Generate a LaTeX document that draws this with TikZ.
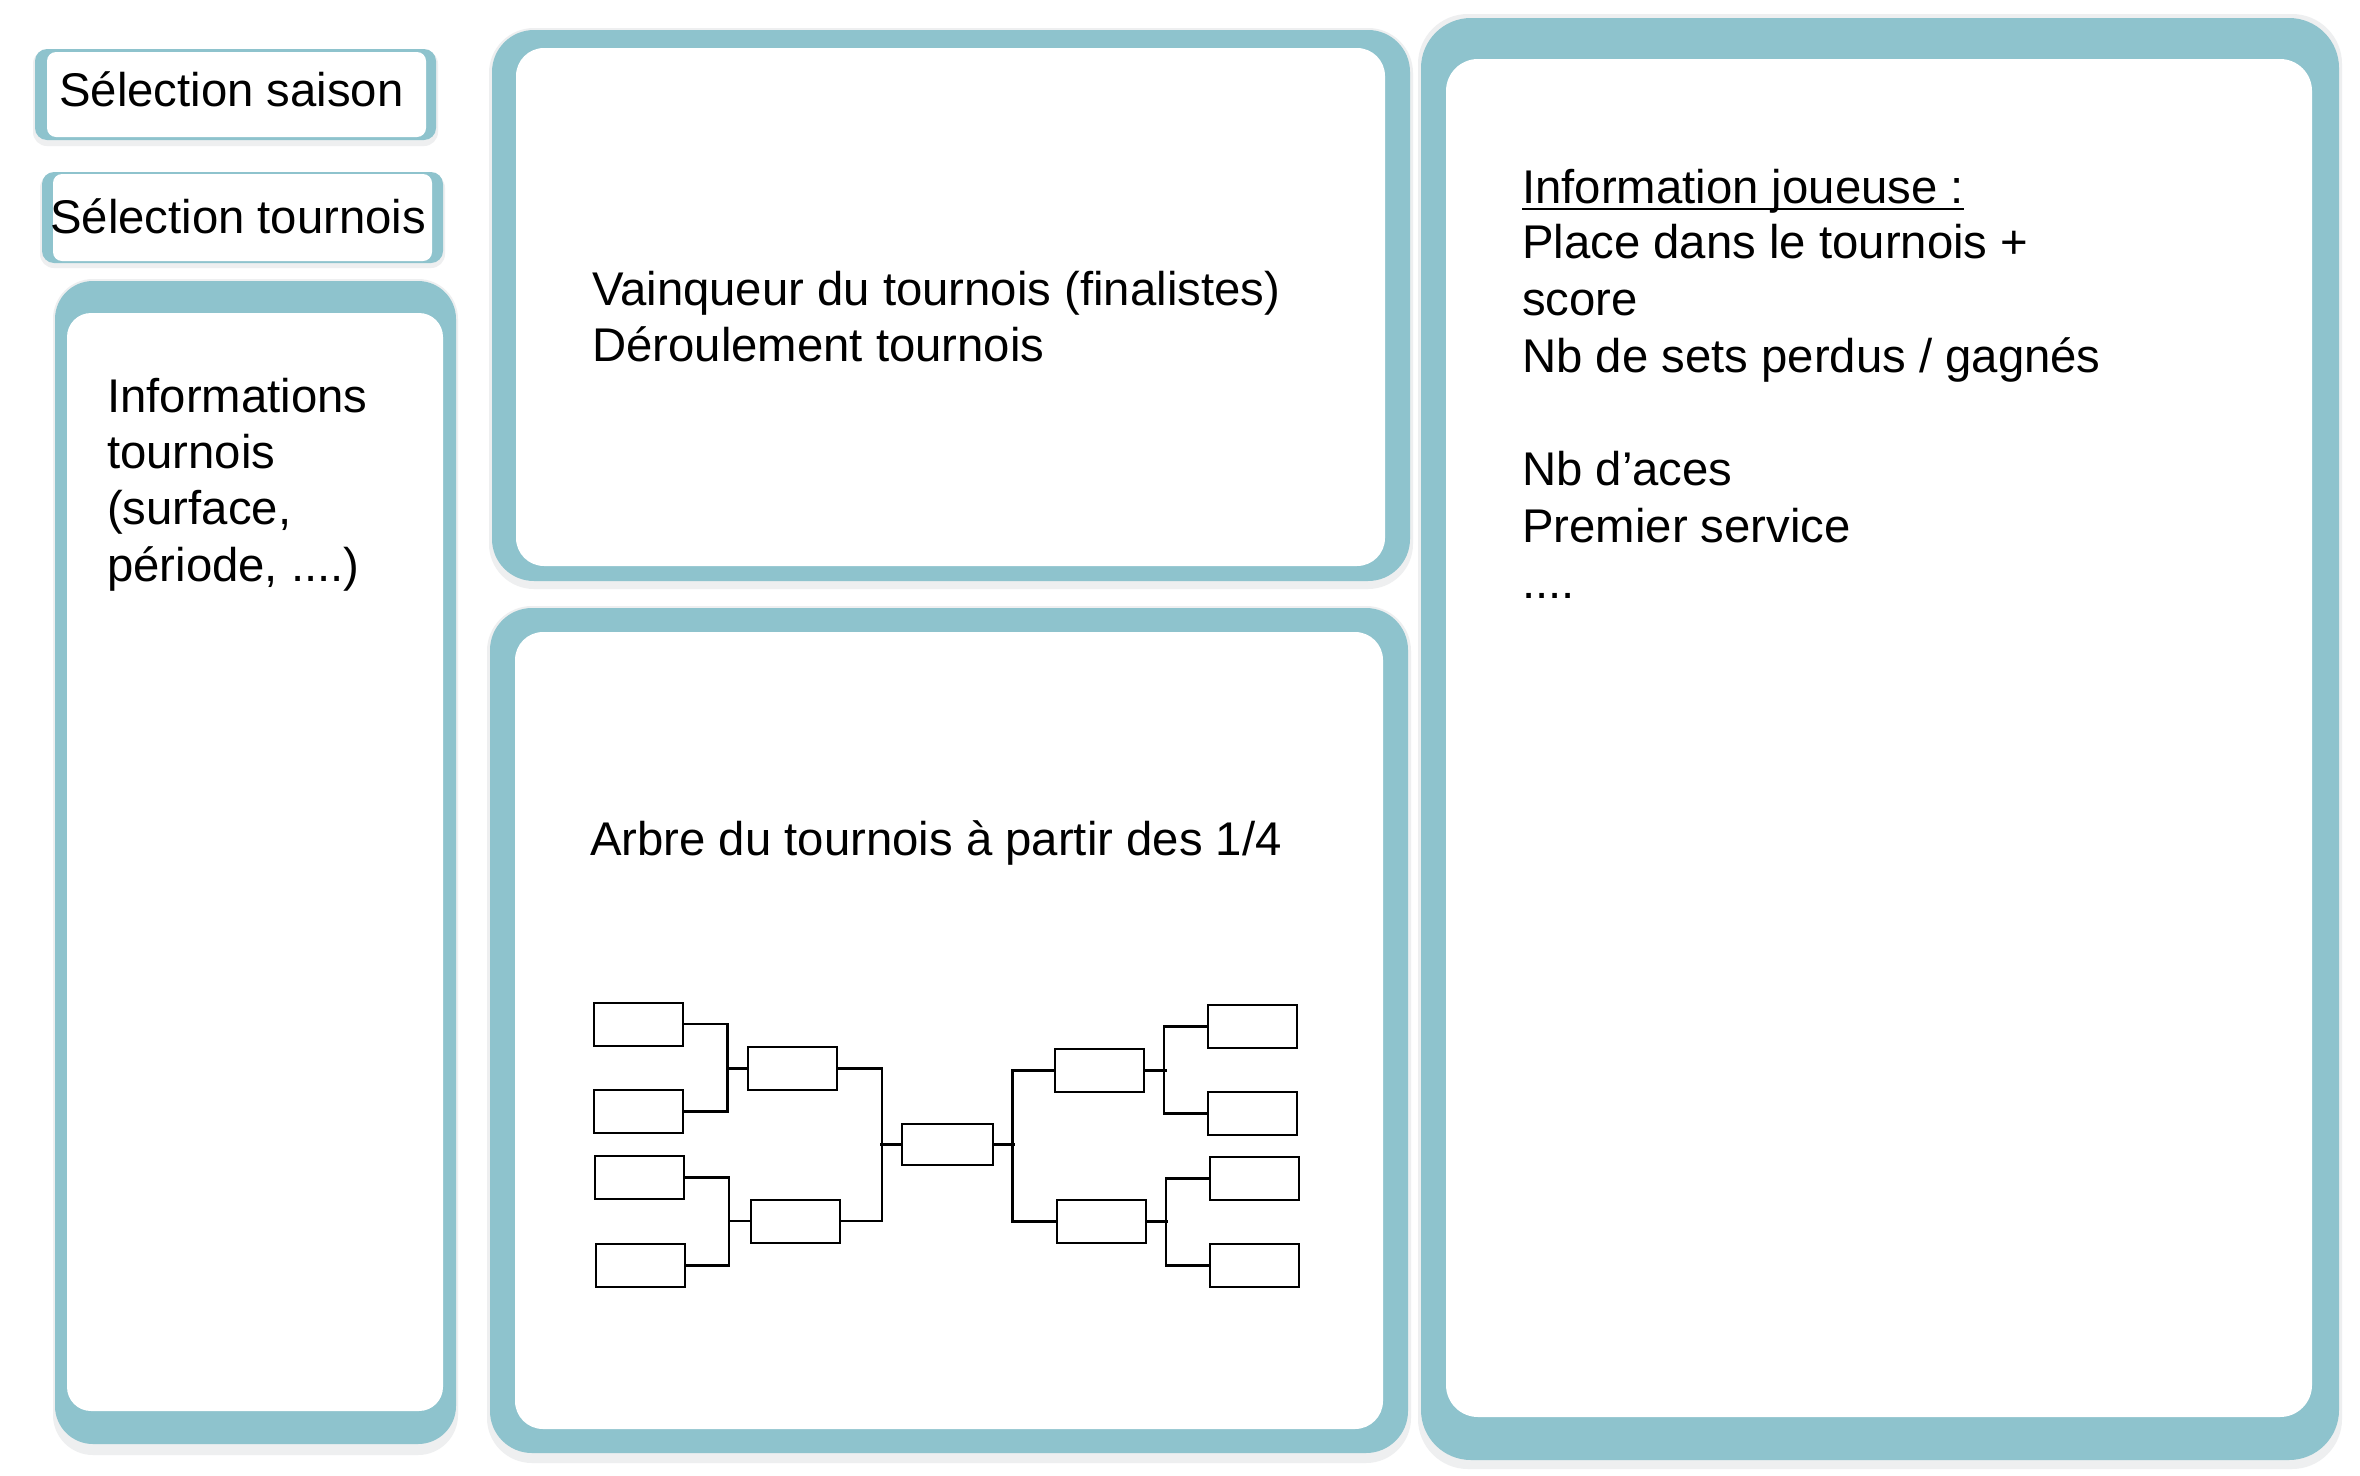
\documentclass[tikz,border=0pt]{standalone}
\usepackage{fontspec}
\setmainfont{Liberation Sans}
\definecolor{panelteal}{RGB}{142,195,205}
\definecolor{panelshadow}{RGB}{238,239,240}
\tikzset{
  outerp/.style={fill=panelteal, rounded corners=#1},
  innerp/.style={fill=white, rounded corners=#1},
  shadowp/.style={fill=panelshadow, rounded corners=#1},
  txt/.style={font=\fontsize{47.3}{56.5}\selectfont, inner sep=0pt, anchor=base west},
  slot/.style={draw=black, line width=2pt, minimum width=89pt, minimum height=43pt, inner sep=0pt},
  link/.style={draw=black, line width=2.2pt}
}
\begin{document}
\begin{tikzpicture}[x=1pt,y=-1pt]
\fill[white] (0,0) rectangle (2360,1475);
\useasboundingbox (0,0) rectangle (2360,1475);

% shadows
\fill[shadowp=14] (33,50) rectangle (438,146);
\fill[shadowp=14] (40,174) rectangle (445,268);
\fill[shadowp=40] (53,279) rectangle (458,1455);
\fill[shadowp=45] (489,28) rectangle (1413,589);
\fill[shadowp=45] (487,606) rectangle (1411,1463);
\fill[shadowp=50] (1418,14) rectangle (2342,1469);

% Sélection saison
\fill[outerp=12] (35,49) rectangle (436,140);
\fill[innerp=9] (47,52) rectangle (426,137);
% Sélection tournois
\fill[outerp=12] (42,172) rectangle (443,263);
\fill[innerp=9] (53,174) rectangle (432,261);
% left panel
\fill[outerp=38] (55,281) rectangle (456,1444);
\fill[innerp=24] (67,313) rectangle (443,1411);
% top middle panel
\fill[outerp=42] (492,30) rectangle (1410,581);
\fill[innerp=28] (516,48) rectangle (1385,566);
% bottom middle panel
\fill[outerp=42] (490,608) rectangle (1408,1453);
\fill[innerp=28] (515,632) rectangle (1383,1429);
% right panel
\fill[outerp=50] (1421,18) rectangle (2339,1460);
\fill[innerp=32] (1446,59) rectangle (2312,1417);

% texts
\node[txt] (s1) at (59,106) {Sélection saison};
\node[txt] (s2) at (50,233) {Sélection tournois};

\node[txt] (i1) at (107,412) {Informations};
\node[txt] (i2) at (107,468) {tournois};
\node[txt] (i3) at (107,524) {(surface,};
\node[txt] (i4) at (107,581) {période, ....)};

\node[txt] (v1) at (592,305) {Vainqueur du tournois (finalistes)};
\node[txt] (v2) at (592,361) {Déroulement tournois};

\node[txt] (a1) at (590,855) {Arbre du tournois à partir des 1/4};

\node[txt] (j1) at (1522,203) {Information joueuse :};
\draw[line width=2.5pt] ([yshift=-6pt]j1.base west) -- ([yshift=-6pt]j1.base east);
\node[txt] (j2) at (1522,258) {Place dans le tournois +};
\node[txt] (j3) at (1522,315) {score};
\node[txt] (j4) at (1522,372) {Nb de sets perdus / gagnés};
\node[txt] (j5) at (1522,485) {Nb d’aces};
\node[txt] (j6) at (1522,542) {Premier service};
\node[txt] (j7) at (1522,598) {....};

% bracket
\node[slot] (L1) at (638,1024) {};
\node[slot] (L2) at (638,1111.5) {};
\node[slot] (L3) at (639.5,1177.5) {};
\node[slot] (L4) at (640,1265.5) {};
\node[slot] (L5) at (792.5,1068.5) {};
\node[slot] (L6) at (795,1221) {};
\node[slot, minimum width=91pt, minimum height=41pt] (F) at (947.5,1144.5) {};
\node[slot] (R5) at (1099,1070.5) {};
\node[slot] (R6) at (1101.5,1221.5) {};
\node[slot] (R1) at (1252.5,1026.5) {};
\node[slot] (R2) at (1252.5,1113.5) {};
\node[slot] (R3) at (1254.5,1178.5) {};
\node[slot] (R4) at (1254.5,1265.5) {};

\draw[link] (L1.east) -- ++(44,0) |- (L2.east);
\draw[link] (L5.west) -- ++(-21,0);
\draw[link] (L3.east) -- ++(44,0) |- (L4.east);
\draw[link] (L6.west) -- ++(-21,0);
\draw[link] (L5.east) -- ++(44,0) |- (L6.east);
\draw[link] (F.west) -- ++(-21,0);
\draw[link] (F.east) -- ++(21,0);
\draw[link] (R5.west) -- ++(-41,0) |- (R6.west);
\draw[link] (R5.east) -- ++(22,0);
\draw[link] (R1.west) -- ++(-43,0) |- (R2.west);
\draw[link] (R6.east) -- ++(21,0);
\draw[link] (R3.west) -- ++(-43,0) |- (R4.west);
\end{tikzpicture}
\end{document}
